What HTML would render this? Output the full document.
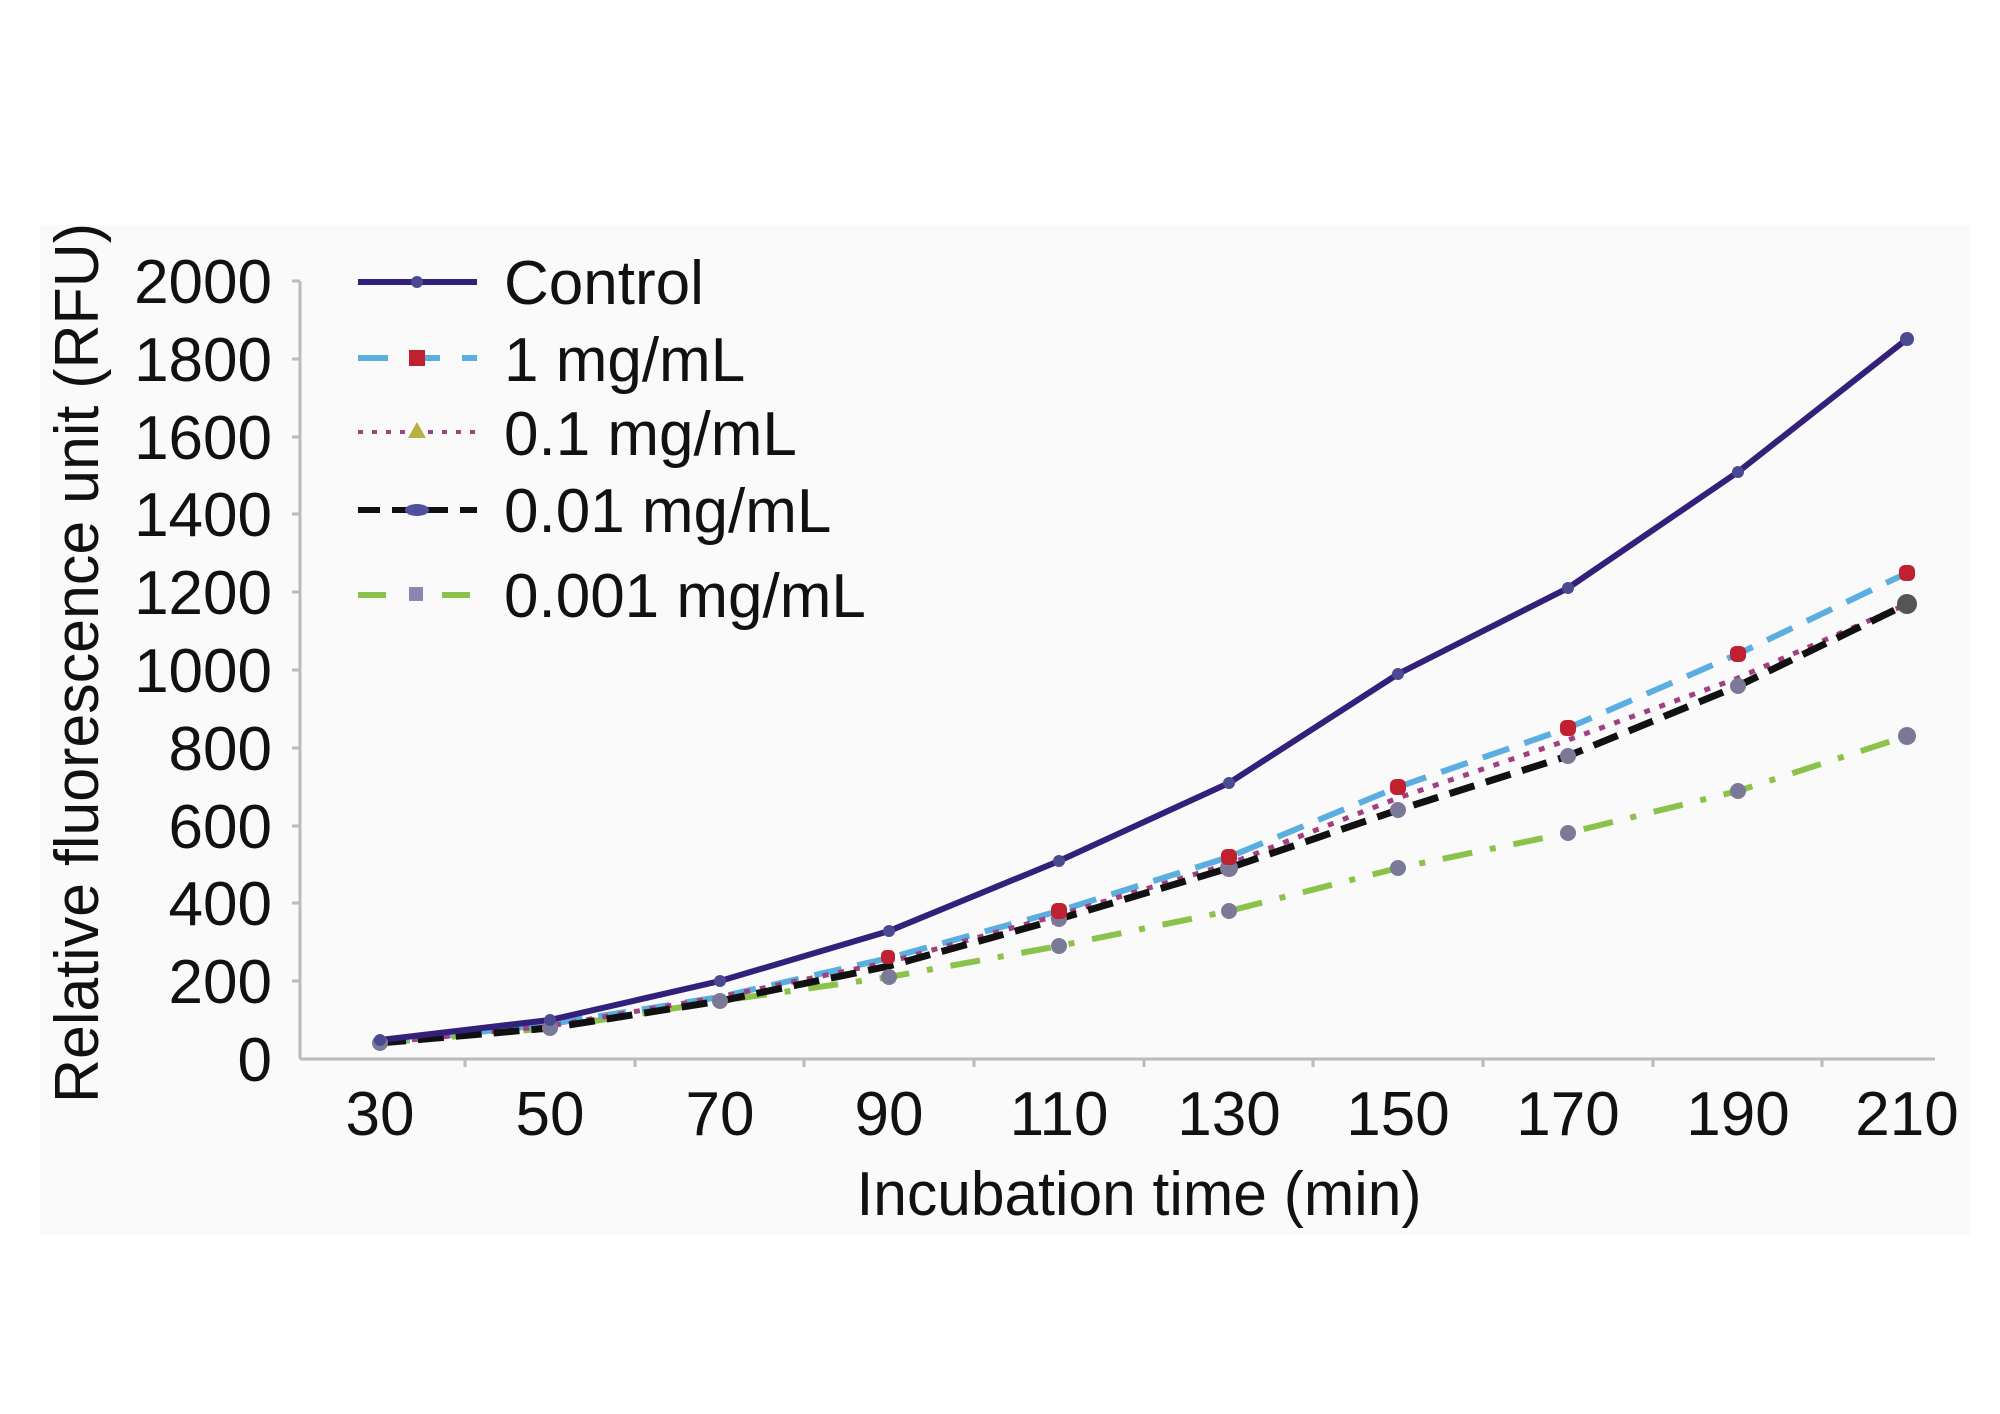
<!DOCTYPE html>
<html><head><meta charset="utf-8"><style>
html,body{margin:0;padding:0;background:#fff;}
svg{display:block;}
text{font-family:"Liberation Sans",Arial,sans-serif;fill:#111;}
</style></head><body>
<svg width="2000" height="1414" viewBox="0 0 2000 1414" xmlns="http://www.w3.org/2000/svg">
<rect width="2000" height="1414" fill="#fff"/>
<rect x="40" y="225" width="1930" height="1010" fill="#fafafa"/>
<line x1="300" y1="281" x2="300" y2="1059" stroke="#bbb" stroke-width="3"/>
<line x1="300" y1="1059" x2="1935" y2="1059" stroke="#bbb" stroke-width="3"/>
<g stroke="#bbb" stroke-width="3">
<line x1="292" y1="281" x2="300" y2="281"/><line x1="292" y1="359" x2="300" y2="359"/>
<line x1="292" y1="437" x2="300" y2="437"/><line x1="292" y1="514" x2="300" y2="514"/>
<line x1="292" y1="592" x2="300" y2="592"/><line x1="292" y1="670" x2="300" y2="670"/>
<line x1="292" y1="748" x2="300" y2="748"/><line x1="292" y1="826" x2="300" y2="826"/>
<line x1="292" y1="903" x2="300" y2="903"/><line x1="292" y1="981" x2="300" y2="981"/>
<line x1="465" y1="1059" x2="465" y2="1067"/><line x1="635" y1="1059" x2="635" y2="1067"/>
<line x1="804" y1="1059" x2="804" y2="1067"/><line x1="974" y1="1059" x2="974" y2="1067"/>
<line x1="1144" y1="1059" x2="1144" y2="1067"/><line x1="1313" y1="1059" x2="1313" y2="1067"/>
<line x1="1483" y1="1059" x2="1483" y2="1067"/><line x1="1653" y1="1059" x2="1653" y2="1067"/>
<line x1="1822" y1="1059" x2="1822" y2="1067"/>
</g>
<g font-size="62" text-anchor="end">
<text x="272" y="303">2000</text><text x="272" y="381">1800</text>
<text x="272" y="459">1600</text><text x="272" y="536">1400</text>
<text x="272" y="614">1200</text><text x="272" y="692">1000</text>
<text x="272" y="770">800</text><text x="272" y="848">600</text>
<text x="272" y="925">400</text><text x="272" y="1003">200</text>
<text x="272" y="1081">0</text>
</g>
<g font-size="62" text-anchor="middle">
<text x="380" y="1135">30</text><text x="550" y="1135">50</text>
<text x="720" y="1135">70</text><text x="889" y="1135">90</text>
<text x="1059" y="1135">110</text><text x="1229" y="1135">130</text>
<text x="1398" y="1135">150</text><text x="1568" y="1135">170</text>
<text x="1738" y="1135">190</text><text x="1907" y="1135">210</text>
</g>
<text x="1139" y="1215" font-size="62" text-anchor="middle" textLength="565" lengthAdjust="spacingAndGlyphs">Incubation time (min)</text>
<text transform="translate(98,663) rotate(-90)" font-size="62" text-anchor="middle" textLength="880" lengthAdjust="spacingAndGlyphs">Relative fluorescence unit (RFU)</text>
<polyline fill="none" stroke="#8bc34a" stroke-width="6" stroke-dasharray="30,18,6,18" points="380,1043 550,1028 720,1001 889,977 1059,946 1229,911 1398,868 1568,833 1738,791 1907,736"/>
<polyline fill="none" stroke="#5aaee0" stroke-width="6" stroke-dasharray="28,16" points="380,1043 550,1024 720,997 889,958 1059,911 1229,857 1398,787 1568,728 1738,654 1907,573"/>
<polyline fill="none" stroke="#a04080" stroke-width="5" stroke-dasharray="6,10" points="380,1043 550,1026 720,997 889,962 1059,915 1229,864 1398,798 1568,740 1738,678 1907,604"/>
<polyline fill="none" stroke="#111" stroke-width="7" stroke-dasharray="26,12" points="380,1043 550,1028 720,1001 889,966 1059,919 1229,868 1398,810 1568,756 1738,686 1907,604"/>
<polyline fill="none" stroke="#33207a" stroke-width="6" points="380,1040 550,1020 720,981 889,931 1059,861 1229,783 1398,674 1568,588 1738,472 1907,339"/>
<g fill="#7a7a98">
<circle cx="380" cy="1043" r="8"/><circle cx="550" cy="1028" r="8"/><circle cx="720" cy="1001" r="8"/><circle cx="889" cy="977" r="8"/><circle cx="1059" cy="946" r="8"/><circle cx="1229" cy="911" r="8"/><circle cx="1398" cy="868" r="8"/><circle cx="1568" cy="833" r="8"/><circle cx="1738" cy="791" r="8"/><circle cx="1907" cy="736" r="9"/>
<circle cx="1907" cy="604" r="10" fill="#555"/><circle cx="1738" cy="686" r="8"/><circle cx="1568" cy="756" r="8"/><circle cx="1398" cy="810" r="8"/><circle cx="1229" cy="868" r="9"/><circle cx="1059" cy="919" r="8"/>
</g>
<g fill="#c02030">
<rect x="1899" y="565" width="16" height="16" rx="6"/><rect x="1730" y="646" width="16" height="16" rx="6"/><rect x="1560" y="720" width="16" height="16" rx="6"/><rect x="1390" y="779" width="16" height="16" rx="6"/><rect x="1221" y="849" width="16" height="16" rx="6"/><rect x="1051" y="903" width="16" height="16" rx="6"/><rect x="881" y="950" width="14" height="14" rx="5"/>
</g>
<g fill="#4a4a90">
<circle cx="380" cy="1040" r="6"/><circle cx="550" cy="1020" r="6"/><circle cx="720" cy="981" r="6"/><circle cx="889" cy="931" r="6"/><circle cx="1059" cy="861" r="6"/><circle cx="1229" cy="783" r="6"/><circle cx="1398" cy="674" r="6"/><circle cx="1568" cy="588" r="6"/><circle cx="1738" cy="472" r="6"/><circle cx="1907" cy="339" r="7"/>
</g>
<line x1="358" y1="282" x2="477" y2="282" stroke="#33207a" stroke-width="6"/><circle cx="417" cy="282" r="6" fill="#4a4a90"/>
<line x1="358" y1="358" x2="477" y2="358" stroke="#5aaee0" stroke-width="6" stroke-dasharray="30,22"/><rect x="409" y="350" width="16" height="16" fill="#c02030"/>
<line x1="358" y1="432" x2="477" y2="432" stroke="#a04080" stroke-width="4" stroke-dasharray="5,9"/><path d="M417 422 L426 438 L408 438 Z" fill="#b8b040"/>
<line x1="358" y1="510" x2="477" y2="510" stroke="#111" stroke-width="6" stroke-dasharray="22,12"/><ellipse cx="417" cy="510" rx="12" ry="6" fill="#5050a0"/>
<line x1="358" y1="595" x2="477" y2="595" stroke="#8bc34a" stroke-width="6" stroke-dasharray="28,56"/><rect x="409" y="587" width="14" height="14" fill="#8888b0"/>
<g font-size="62">
<text x="504" y="304">Control</text>
<text x="504" y="381">1 mg/mL</text>
<text x="504" y="455">0.1 mg/mL</text>
<text x="504" y="532">0.01 mg/mL</text>
<text x="504" y="617">0.001 mg/mL</text>
</g>
</svg>
</body></html>
